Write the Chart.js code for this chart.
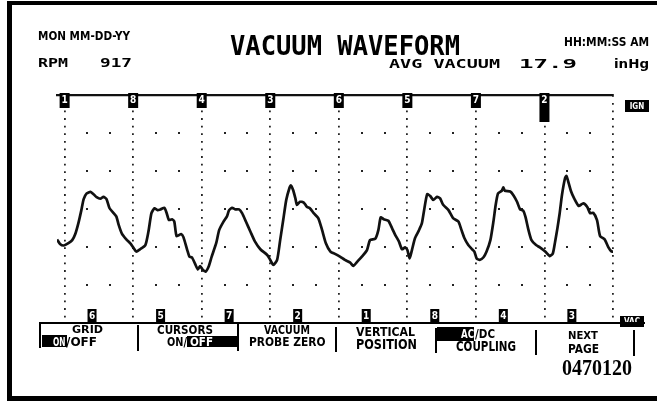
<!DOCTYPE html>
<html><head><meta charset="utf-8">
<script src="https://cdn.jsdelivr.net/npm/chart.js@4/dist/chart.umd.min.js"></script>
<style>
html,body{margin:0;padding:0;background:#fff;width:657px;height:401px;overflow:hidden;}
#wrap{position:relative;width:657px;height:401px;overflow:hidden;}
#frame{position:absolute;left:7px;top:1px;width:700px;height:400px;box-sizing:border-box;border-top:4px solid #000;border-left:5px solid #000;border-bottom:5px solid #000;}
canvas{position:absolute;left:0;top:0;}
.t{position:absolute;white-space:pre;transform-origin:0 0;}
.r{position:absolute;background:#000;}
</style></head>
<body><div id="wrap"><div id="frame"></div><canvas id="c" width="657" height="401"></canvas></div>
<script>
// ---- data (crank angle in degrees, vacuum in screen divisions) ----
const crankDeg = [-10,-6,-1,5,10,14,18,22,25,29,34,38,42,47,51,55,59,64,68,71,75,81,86,90,94,99,106,110,114,118,122,126,131,134,137,141,144,147,153,156,161,164,167,171,175,178,181,185,189,193,199,203,209,213,216,220,224,229,233,238,244,250,257,266,270,274,279,283,287,291,295,297,300,303,305,309,314,318,322,327,333,338,343,349,355,362,368,375,379,384,390,397,401,408,412,415,419,425,430,434,439,443,447,450,453,456,460,465,469,472,476,480,484,489,493,497,504,510,517,521,525,530,535,538,541,545,550,554,559,563,566,569,574,576,578,585,589,594,598,602,605,609,613,619,624,631,637,641,644,647,650,653,657,659,661,665,669,675,681,686,690,694,699,703,709,714,718,720];
const vacDiv = [2.20,2.08,2.04,2.10,2.18,2.34,2.62,2.97,3.26,3.41,3.45,3.39,3.31,3.27,3.32,3.26,3.02,2.90,2.80,2.58,2.36,2.20,2.10,1.99,1.88,1.94,2.05,2.40,2.89,3.02,2.97,2.99,3.03,2.89,2.71,2.73,2.67,2.29,2.34,2.26,1.92,1.74,1.73,1.57,1.41,1.50,1.41,1.35,1.48,1.74,2.10,2.45,2.68,2.80,2.97,3.03,2.99,2.99,2.89,2.67,2.40,2.14,1.94,1.79,1.66,1.53,1.66,2.18,2.71,3.24,3.54,3.62,3.50,3.28,3.11,3.19,3.17,3.06,3.02,2.89,2.76,2.45,2.10,1.88,1.82,1.74,1.66,1.59,1.50,1.61,1.74,1.92,2.18,2.22,2.45,2.78,2.73,2.69,2.49,2.32,2.14,1.94,1.99,1.92,1.70,1.92,2.23,2.43,2.62,2.97,3.39,3.34,3.24,3.32,3.28,3.11,2.97,2.76,2.67,2.45,2.23,2.05,1.94,1.88,1.70,1.66,1.73,1.88,2.18,2.67,3.11,3.41,3.48,3.57,3.48,3.46,3.37,3.19,2.99,2.96,2.80,2.45,2.18,2.05,1.99,1.88,1.76,1.83,2.14,2.49,2.89,3.37,3.81,3.87,3.74,3.46,3.28,3.08,3.15,3.06,2.89,2.90,2.71,2.29,2.20,1.99,1.88,1.88];
const topCyl = ['1','8','4','3','6','5','7','2'];
const cylDeg = [0,90,180,270,360,450,540,630];
const gridDeg = [0,90,180,270,360,450,540,630,720];
const botCyl = ['6','5','7','2','1','8','4','3'];
const botDeg = [36,126,216,306,396,486,576,666];
const rowDiv = [1,2,3,4,5];
const minorDeg = [30,60,120,150,210,240,300,330,390,420,480,510,570,600,660,690];
const activeCyl = '2';

const wrap = document.getElementById('wrap');
const MET = {
  cond:{fam:'"DejaVu Sans Condensed","DejaVu Sans",sans-serif',f:0.117,cap:0.729},
  mono:{fam:'"DejaVu Sans Mono",monospace',f:0.117,cap:0.729},
  serif:{fam:'"Liberation Serif","Times New Roman",serif',f:0.1615,cap:0.676}
};
function R(x,y,w,h){const d=document.createElement('div');d.className='r';d.style.cssText=`left:${x}px;top:${y}px;width:${w}px;height:${h}px`;wrap.appendChild(d);}
function T(str,x,capTop,capH,w,kind,color){
  const m=MET[kind];const fs=capH/m.cap;
  const d=document.createElement('div');d.className='t';d.textContent=str;
  d.style.cssText=`left:${x}px;top:${capTop-m.f*fs}px;font:bold ${fs}px/${fs}px ${m.fam};color:${color||'#000'};z-index:2`;
  wrap.appendChild(d);
  const nat=d.getBoundingClientRect().width;
  d.style.transform=`scaleX(${w/nat})`;
}
// header
T('MON MM-DD-YY',38,32,8.5,92,'cond');
T('RPM',38,57.5,9.5,30,'mono');
T('917',100,57.5,9.5,32,'mono');
T('VACUUM WAVEFORM',230,35,20,230,'mono');
T('HH:MM:SS AM',564,38.5,8.5,85,'cond');
T('AVG VACUUM',389,59,9,111,'mono');
T('17.9',519,58.5,9.5,58,'mono');
T('inHg',614,60,8.5,35,'cond');
// menu frame
R(39,322,606,2);
R(39,322,2,26);R(137,325,2,26);R(237,323,2,28);R(335,327,2,25);R(435,328,2,25);R(535,330,2,25);R(633,330,2,26);
R(42,335,25,12);R(187,336,51,11);R(437,327,37,14);
T('GRID',72,326,8,31,'cond');
T('ON',53,337,9,12.5,'cond','#fff');
T('/OFF',66,337,9,31,'cond');
T('CURSORS',157,326,8.5,56,'cond');
T('ON/',167,337,9,20,'cond');
T('OFF',190,337.5,9,23,'cond','#fff');
T('VACUUM',264,326.5,8.5,46,'cond');
T('PROBE ZERO',248.5,337.5,9,76.5,'cond');
T('VERTICAL',356,328.5,8.5,59,'cond');
T('POSITION',355.5,339.5,10,61,'cond');
T('AC',461,329,9,13,'cond','#fff');
T('/DC',475,329,9,20,'cond');
T('COUPLING',455.5,342,10,60,'cond');
T('NEXT',568,332,8,30,'cond');
T('PAGE',568,343.5,9.5,31,'cond');
T('0470120',562,361,15.5,70,'serif');

const scope = {
  id:'scope',
  beforeDatasetsDraw(chart){
    const {ctx,scales:{x,y}}=chart;
    ctx.save();ctx.fillStyle='#222';
    for(const r of rowDiv)for(const m of minorDeg){
      ctx.fillRect(Math.round(x.getPixelForValue(m))-1,Math.round(y.getPixelForValue(r))-1,2,2);
    }
    ctx.restore();
  },
  afterDatasetsDraw(chart){
    const {ctx,chartArea:ca,scales:{x}}=chart;
    ctx.save();
    ctx.textAlign='center';ctx.textBaseline='middle';
    ctx.font='bold 10px "DejaVu Sans Condensed"';
    topCyl.forEach((lab,i)=>{
      const px=x.getPixelForValue(cylDeg[i]);
      ctx.fillStyle='#000';ctx.fillRect(px-5,ca.top-2,10,lab===activeCyl?29:15);
      ctx.fillStyle='#fff';ctx.fillText(lab,px,ca.top+5.5);
    });
    botCyl.forEach((lab,i)=>{
      const px=x.getPixelForValue(botDeg[i]);
      ctx.fillStyle='#000';ctx.fillRect(px-4.5,ca.bottom-14,9,14);
      ctx.fillStyle='#fff';ctx.fillText(lab,px,ca.bottom-7);
    });
    ctx.font='bold 8px "DejaVu Sans Condensed"';
    ctx.fillStyle='#000';ctx.fillRect(ca.right+12,ca.top+5,24,12);
    ctx.fillStyle='#fff';ctx.fillText('IGN',ca.right+24,ca.top+11.5);
    ctx.fillStyle='#000';ctx.fillRect(ca.right+7,ca.bottom-7,24,11);
    ctx.fillStyle='#fff';ctx.fillText('VAC',ca.right+19,ca.bottom-1);
    ctx.restore();
  }
};

new Chart(document.getElementById('c'),{
  type:'line',
  data:{datasets:[{data:crankDeg.map((v,i)=>({x:v,y:vacDiv[i]})),borderColor:'#111',borderWidth:2.7,pointRadius:0,tension:0.2,fill:false}]},
  options:{
    responsive:false,animation:false,devicePixelRatio:1,
    layout:{padding:{left:57,right:44,top:95,bottom:78}},
    plugins:{legend:{display:false},tooltip:{enabled:false},title:{display:false}},
    scales:{
      x:{type:'linear',position:'top',min:-10,max:720,
        afterBuildTicks:s=>{s.ticks=gridDeg.map(v=>({value:v}));},
        ticks:{display:false},
        grid:{drawTicks:false,color:'#222',lineWidth:1.8},
        border:{display:true,color:'#111',width:2.2,dash:[1.8,5.8],dashOffset:0.9}},
      y:{type:'linear',min:0,max:6,display:false}
    }
  },
  plugins:[scope]
});
</script>
</body></html>
